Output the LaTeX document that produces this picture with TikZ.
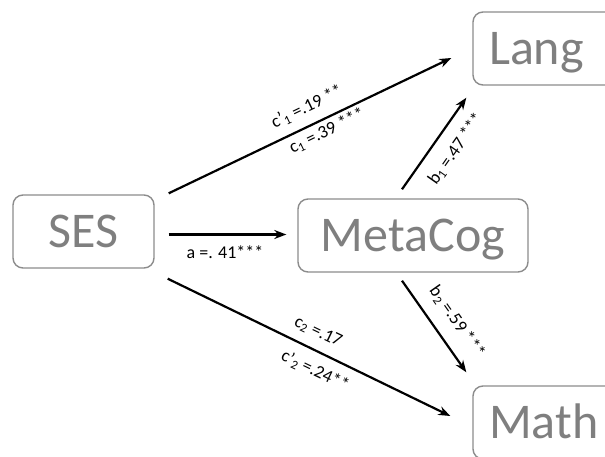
\documentclass[tikz,border=0pt]{standalone}
\usepackage{fontspec}
\setmainfont{Carlito}
\usetikzlibrary{arrows.meta}
\definecolor{boxgrey}{HTML}{8C8C8C}
\definecolor{textgrey}{HTML}{7F7F7F}
\begin{document}
\begin{tikzpicture}[x=1pt,y=-1pt,
  box/.style={draw=boxgrey, line width=1.4pt, rounded corners=10pt, text=textgrey,
    font=\fontsize{50}{60}\selectfont, text height=32pt, text depth=0pt,
    inner sep=0pt, minimum height=73pt},
  arr/.style={line width=2.2pt, -{Stealth[length=12pt,width=9pt]}},
  lab/.style={font=\fontsize{18}{21}\selectfont, inner sep=1pt, text=black}]
\useasboundingbox (0,0) rectangle (605,457);
\clip (0,0) rectangle (605,457);
\node[box, minimum width=141pt] (ses) at (83.5,231.5) {SES};
\node[box, minimum width=230pt] (meta) at (413,235.5) {MetaCog};
\node[box, minimum width=152pt, text width=120pt, inner xsep=16pt, align=left] (lang) at (549,48.5) {Lang};
\node[box, minimum width=152pt, text width=120pt, inner xsep=16pt, align=left] (math) at (549,422.5) {Math};
% connector ends
\coordinate (sl0) at ([shift={(14,-1)}]ses.north east);
\coordinate (sl1) at ([shift={(-21,9.5)}]lang.west);
\coordinate (ml0) at ([shift={(-11,-9)}]meta.north);
\coordinate (ml1) at ([shift={(-6,12)}]lang.south west);
\coordinate (sm0) at ([shift={(14,3)}]ses.east);
\coordinate (sm1) at ([shift={(-11,-1)}]meta.west);
\coordinate (sh0) at ([shift={(13,10)}]ses.south east);
\coordinate (sh1) at ([shift={(-22,-6.5)}]math.west);
\coordinate (mh0) at ([shift={(-11,8)}]meta.south);
\coordinate (mh1) at ([shift={(-6,-13)}]math.north west);
\draw[arr] (sl0) -- (sl1);
\draw[arr] (ml0) -- (ml1);
\draw[arr] (sm0) -- (sm1);
\draw[arr] (sh0) -- (sh1);
\draw[arr] (mh0) -- (mh1);
% labels
\node[lab, rotate=25.6] (lc1p) at (307,107) {c'\textsubscript{1} =.19 **};
\node[lab, rotate=25.6] (lc1) at (327,131) {c\textsubscript{1} =.39 ***};
\node[lab, rotate=55] (lb1) at (456,149) {b\textsubscript{1} =.47 ***};
\node[lab] (la) at (225,252) {a =. 41***};
\node[lab, rotate=-25.6] (lc2) at (318,332) {c\textsubscript{2} =.17};
\node[lab, rotate=-25.6] (lc2p) at (315,371) {c'\textsubscript{2} =.24**};
\node[lab, rotate=-55] (lb2) at (457,322) {b\textsubscript{2} =.59 ***};
\end{tikzpicture}
\end{document}
